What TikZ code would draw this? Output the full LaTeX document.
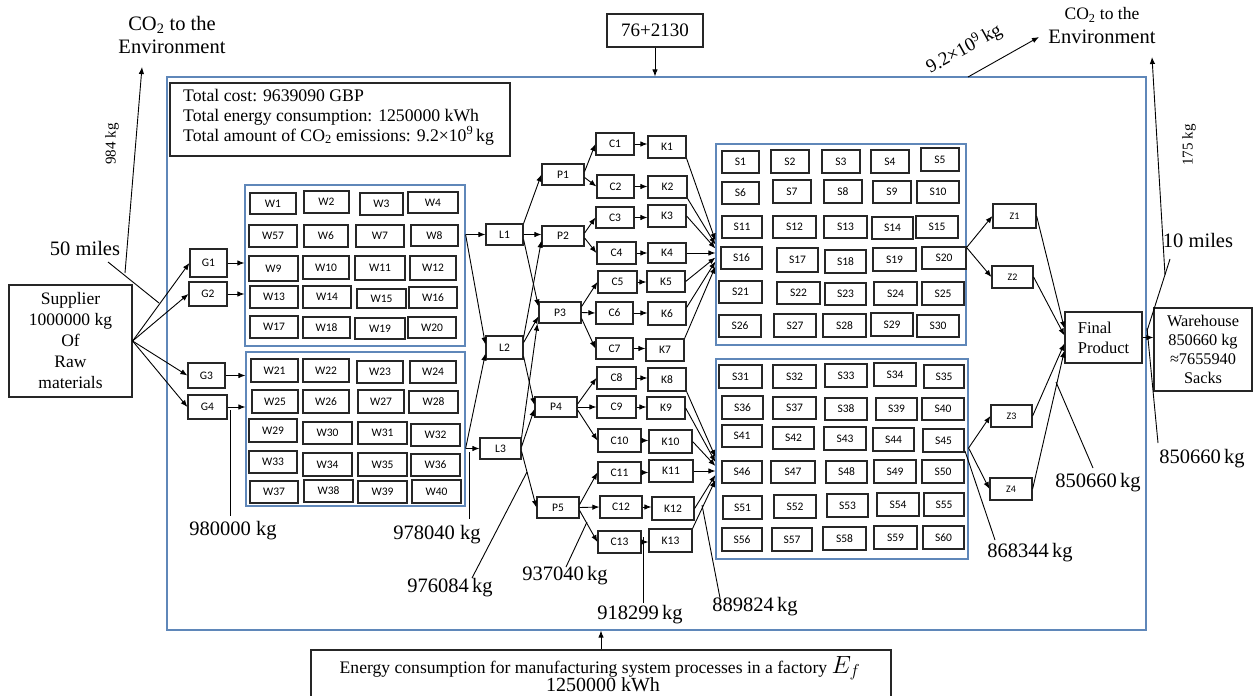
\documentclass[tikz,border=0pt]{standalone}
\usepackage{fontspec}
\setmainfont{Liberation Serif}
\newfontfamily\boxfont{Carlito}
\usetikzlibrary{arrows.meta,calc}
\definecolor{grpblue}{RGB}{95,135,185}

% box given by its corners: [style]{name}{x1}{y1}{x2}{y2}{text}
\newcommand{\boxat}[7][bx]{\node[#1, minimum width={#5-#3}, minimum height={#6-#4}] (#2) at ({(#3+#5)/2},{(#4+#6)/2}) {#7};}

\tikzset{
  bx/.style={draw=black!85, line width=1.2pt, inner sep=0pt, font=\boxfont\fontsize{11.5}{12}\selectfont},
  zbx/.style={bx, font=\boxfont\fontsize{10}{11}\selectfont},
  tbx/.style={draw=black!85, line width=1.2pt, inner sep=0pt, align=center},
  grp/.style={draw=grpblue, line width=1.2pt, inner sep=0pt},
  arr/.style={-{Latex[length=7pt,width=5.5pt]}, line width=0.9pt},
  lead/.style={line width=0.9pt},
  val/.style={inner sep=0pt, font=\fontsize{20.5}{22}\selectfont},
  small/.style={inner sep=0pt, font=\fontsize{15}{16}\selectfont},
}

\begin{document}
\begin{tikzpicture}[x=1pt,y=-1pt]
\useasboundingbox (0,0) rectangle (1253,696);

% factory frame and groups
\boxat[grp]{fac}{167}{77}{1146}{630}{}
\boxat[grp]{WA}{245}{185}{465}{346}{}
\boxat[grp]{WB}{246}{352}{465}{506}{}
\boxat[grp]{SA}{716}{144}{966}{345}{}
\boxat[grp]{SB}{716}{359}{968}{559}{}

% summary box
\boxat[tbx]{info}{170}{83}{510}{156}{}
\node[anchor=west, align=left, inner sep=0pt, font=\fontsize{17.7}{20}\selectfont] (infotxt) at (183,117)
  {Total cost: 9639090 GBP\\Total energy consumption: 1250000 kWh\\Total amount of CO\textsubscript{2} emissions: 9.2×10\textsuperscript{9}\,kg};

% supplier, top input, energy input
\boxat[tbx, font=\fontsize{17.5}{21}\selectfont]{sup}{9}{285}{132}{397}{Supplier\\1000000 kg\\Of\\Raw\\materials}
\boxat[tbx, font=\fontsize{19}{20}\selectfont]{top}{607}{14}{703}{47}{76+2130}
\boxat[tbx]{en}{311}{650}{891}{702}{}
\node[anchor=base, inner sep=0pt, font=\fontsize{17.6}{19}\selectfont] (en1) at (600,673)
  {Energy consumption for manufacturing system processes in a factory {\fontsize{24}{24}\selectfont$E_{f}$}};
\node[anchor=base, inner sep=0pt, font=\fontsize{20}{21}\selectfont] (en2) at (603,691) {1250000 kWh};

% G boxes
\foreach \n/\a/\b/\c/\d in {G1/190/249/227/277, G2/189/282/227/306, G3/188/363/225/388, G4/188/395/227/419}
  {\boxat{\n}{\a}{\b}{\c}{\d}{\n}}

% W boxes
\foreach \n/\a/\b/\c/\d in {
  W1/250/193/296/214, W2/304/191/349/213, W3/360/193/403/215, W4/408/192/458/213,
  W57/249/225/297/247, W6/304/225/348/247, W7/356/225/404/247, W8/411/225/458/246,
  W9/249/256/298/281, W10/303/256/349/279, W11/355/256/405/280, W12/410/256/456/280,
  W13/250/286/298/308, W14/303/286/351/308, W15/357/289/406/308, W16/409/287/457/308,
  W17/250/316/298/338, W18/303/317/350/338, W19/355/318/405/339, W20/408/317/456/338,
  W21/251/359/298/382, W22/303/359/349/382, W23/357/361/403/383, W24/410/361/456/383,
  W25/252/390/298/413, W26/303/390/349/413, W27/358/390/404/413, W28/409/391/458/413,
  W29/249/419/297/442, W30/303/422/352/444, W31/358/422/407/444, W32/411/424/460/446,
  W33/249/451/297/473, W34/303/453/352/476, W35/358/453/407/476, W36/411/454/460/476,
  W37/250/481/298/503, W38/304/480/353/502, W39/358/481/407/503, W40/412/480/461/503}
  {\boxat{\n}{\a}{\b}{\c}{\d}{\n}}

% L, P, C, K boxes
\foreach \n/\a/\b/\c/\d in {
  L1/486/224/523/245, L2/486/336/523/359, L3/480/438/521/459,
  P1/542/164/584/185, P2/542/226/584/246, P3/539/302/581/323, P4/535/397/577/417, P5/537/497/579/518,
  C1/596/133/634/155, C2/597/175/634/198, C3/596/207/634/228, C4/597/242/636/264,
  C5/598/271/637/293, C6/596/302/633/324, C7/596/338/633/359, C8/597/367/636/389,
  C9/597/396/636/418, C10/598/429/641/452, C11/598/462/641/483, C12/600/496/642/518, C13/598/531/641/553,
  K1/648/136/686/158, K2/648/176/687/198, K3/648/205/686/227, K4/648/243/686/263,
  K5/647/271/685/292, K6/648/302/686/325, K7/646/339/684/361, K8/648/368/686/391,
  K9/647/397/685/419, K10/649/430/692/453, K11/649/460/693/482, K12/652/497/694/520, K13/649/529/692/552}
  {\boxat{\n}{\a}{\b}{\c}{\d}{\n}}

% S boxes
\foreach \n/\a/\b/\c/\d in {
  S1/722/151/759/173, S2/771/150/809/173, S3/822/150/860/173, S4/871/150/909/173, S5/921/148/959/171,
  S6/722/182/759/204, S7/773/180/811/203, S8/824/180/862/203, S9/873/181/911/203, S10/917/181/959/203,
  S11/722/216/762/238, S12/773/216/816/238, S13/824/216/867/238, S14/872/217/913/239, S15/916/216/958/238,
  S16/721/247/762/269, S17/777/248/818/272, S18/825/250/866/273, S19/873/248/916/271, S20/922/247/966/269,
  S21/719/281/762/303, S22/777/282/820/304, S23/825/283/866/305, S24/874/282/917/305, S25/922/282/964/305,
  S26/719/315/761/337, S27/774/314/816/337, S28/823/314/866/337, S29/871/313/913/336, S30/917/315/959/337,
  S31/719/365/762/388, S32/773/365/816/388, S33/825/364/867/387, S34/874/363/916/386, S35/924/365/964/388,
  S36/722/396/763/419, S37/773/397/816/419, S38/825/398/867/420, S39/876/398/917/420, S40/922/398/964/420,
  S41/722/425/762/447, S42/773/427/814/449, S43/824/427/866/450, S44/873/428/914/451, S45/923/429/964/452,
  S46/722/461/762/483, S47/771/461/815/483, S48/826/461/867/483, S49/874/460/916/483, S50/922/460/964/483,
  S51/723/496/762/519, S52/774/495/816/518, S53/827/494/868/517, S54/877/493/919/516, S55/924/493/964/516,
  S56/722/528/762/551, S57/772/528/812/551, S58/823/527/866/550, S59/874/526/917/549, S60/923/526/964/549}
  {\boxat{\n}{\a}{\b}{\c}{\d}{\n}}

% Z boxes, final product, warehouse
\foreach \n/\a/\b/\c/\d in {Z1/993/204/1036/228, Z2/992/266/1033/288, Z3/991/405/1032/427, Z4/990/478/1032/500}
  {\boxat[zbx]{\n}{\a}{\b}{\c}{\d}{\n}}
\boxat[tbx, align=left, font=\fontsize{16.5}{20}\selectfont]{FP}{1065}{312}{1142}{363}{Final\\Product}
\boxat[tbx, font=\fontsize{16.3}{19}\selectfont]{WH}{1154}{308}{1252}{391}{Warehouse\\850660 kg\\≈7655940\\Sacks}

% supplier to G, G to W groups
\foreach \g in {G1,G2,G3,G4} \draw[arr] (sup.east) -- (\g.west);
\draw[arr] (G1.east) -- (G1.east -| WA.west);
\draw[arr] (G2.east) -- (G2.east -| WA.west);
\draw[arr] (G3.east) -- (G3.east -| WB.west);
\draw[arr] (G4.east) -- (G4.east -| WB.west);

% W groups to L
\draw[arr] (WA.east |- L1.west) -- (L1.west);
\draw[arr] (WA.east |- L1.west) -- ($(L2.west)+(0,-3)$);
\draw[arr] (WB.east |- L3.west) -- (L3.west);
\draw[arr] (WB.east |- L3.west) -- ($(L2.west)+(0,6)$);

% L to P
\draw[arr] (L1.north east) -- (P1.west);
\draw[arr] (L1.east) -- (L1.east -| P2.west);
\draw[arr] ($(L1.east)+(0,5)$) -- ($(P3.west)+(0,-6)$);
\draw[arr] ($(L2.north east)+(0,2)$) -- ($(P2.south west)+(0,-6)$);
\draw[arr] ($(L2.east)+(0,-5)$) -- ($(P3.west)+(0,4)$);
\draw[arr] ($(L2.east)+(0,9)$) -- ($(P4.west)+(0,-2)$);
\draw[arr] (L3.north east) -- ($(P3.south west)+(-1,0)$);
\draw[arr] ($(L3.east)+(0,-2)$) -- ($(P4.west)+(0,2)$);
\draw[arr] ($(L3.east)+(0,3)$) -- (P5.west);

% P to C, C to K
\foreach \p/\c/\o in {P1/C1/-3, P1/C2/3, P2/C3/-3, P2/C4/2, P3/C5/-6, P3/C6/0, P3/C7/6,
  P4/C8/-3, P4/C9/0, P4/C10/3, P5/C11/-3, P5/C12/0, P5/C13/3}
  \draw[arr] ($(\p.east)+(0,\o)$) -- (\c.west);
\foreach \i in {1,...,13} \draw[arr] (C\i.east) -- (C\i.east -| K\i.west);

% K to S groups
\draw[arr] (K1.south east) -- ($(SA.west)+(0,-4)$);
\draw[arr] (K2.south east) -- (SA.west);
\draw[arr] (K3.east) -- ($(SA.west)+(0,4)$);
\draw[arr] (K4.east) -- (K4.east -| SA.west);
\draw[arr] (K5.east) -- ($(SA.west)+(0,13)$);
\draw[arr] ($(K6.east)+(0,-6)$) -- ($(SA.west)+(0,17)$);
\draw[arr] (K7.north east) -- ($(SA.west)+(0,22)$);
\draw[arr] (K8.south east) -- ($(SB.west)+(0,-2)$);
\draw[arr] (K9.east) -- ($(SB.west)+(0,3)$);
\draw[arr] (K10.east) -- ($(SB.west)+(0,7)$);
\draw[arr] (K11.east) -- (K11.east -| SB.west);
\draw[arr] (K12.east) -- ($(SB.west)+(0,16)$);
\draw[arr] (K13.north east) -- ($(SB.west)+(0,21)$);

% S groups to Z, Z to final product, to warehouse
\draw[arr] ($(SA.east)+(0,3)$) -- (Z1.west);
\draw[arr] ($(SA.east)+(0,3)$) -- (Z2.west);
\draw[arr] ($(SB.east)+(0,-11)$) -- (Z3.west);
\draw[arr] ($(SB.east)+(0,-11)$) -- (Z4.west);
\draw[arr] (Z1.east) -- ($(FP.west)+(0,-9)$);
\draw[arr] (Z2.east) -- ($(FP.west)+(0,-2)$);
\draw[arr] (Z3.east) -- ($(FP.west)+(0,6)$);
\draw[arr] (Z4.east) -- ($(FP.west)+(0,13)$);
\draw[arr] (FP.east) -- (FP.east -| WH.west);

% inputs to the factory
\draw[arr] (top.south) -- (top.south |- fac.north);
\draw[arr] (en.north) -- (en.north |- fac.south);

% emissions to the environment
\node[align=center, inner sep=0pt, font=\fontsize{20.5}{23}\selectfont] (co2l) at (172,35) {CO\textsubscript{2} to the\\Environment};
\node[inner sep=0pt, font=\fontsize{17.5}{19}\selectfont] (co2r1) at (1102,15) {CO\textsubscript{2} to the};
\node[inner sep=0pt, font=\fontsize{20.5}{22}\selectfont] (co2r2) at (1102,37) {Environment};
\coordinate (lfoot) at (125,273);
\coordinate (ltip) at (142,67);
\draw[arr] (lfoot) -- (ltip);
\coordinate (rfoot) at (1165,275);
\coordinate (rtip) at (1152,57);
\draw[arr] (rfoot) -- (rtip);
\coordinate (tfoot) at (968,77);
\coordinate (ttip) at (1039,37);
\draw[arr] (tfoot) -- (ttip);
\node[small, rotate=90] (r984) at (112,144) {984 kg};
\node[small, rotate=90] (r175) at (1189,145) {175 kg};
\node[inner sep=0pt, rotate=29, font=\fontsize{19}{20}\selectfont] (r92) at (964,49) {9.2×10\textsuperscript{9}\,kg};

% distances
\node[val] (m50) at (85,248) {50 miles};
\node[val] (m10) at (1198,240) {10 miles};
\coordinate (m50a) at (108,262); \coordinate (m50b) at (159,303);
\draw[lead] (m50a) -- (m50b);
\coordinate (m10a) at (1170,259); \coordinate (m10b) at (1147,331);
\draw[lead] (m10a) -- (m10b);

% mass values along the line
\node[val] (v980) at (233,531) {980000 kg};
\node[val] (v978) at (437,535) {978040 kg};
\node[val] (v976) at (450,588) {976084\,kg};
\node[val] (v937) at (565,576) {937040\,kg};
\node[val] (v918) at (640,615) {918299\,kg};
\node[val] (v889) at (755,607) {889824\,kg};
\node[val] (v868) at (1030,553) {868344\,kg};
\node[val] (v850a) at (1098,483) {850660\,kg};
\node[val] (v850b) at (1202,459) {850660\,kg};

\coordinate (p980) at (230,410); \coordinate (q980) at (230,516);
\draw[lead] (p980) -- (q980);
\coordinate (p978) at (469,452); \coordinate (q978) at (469,519);
\draw[lead] (p978) -- (q978);
\coordinate (p976) at (527,472); \coordinate (q976) at (472,578);
\draw[lead] (p976) -- (q976);
\coordinate (p937) at (587,522); \coordinate (q937) at (566,567);
\draw[lead] (p937) -- (q937);
\coordinate (p918) at (643,537); \coordinate (q918) at (643,603);
\draw[lead] (p918) -- (q918);
\coordinate (p889) at (702,505); \coordinate (q889) at (720,598);
\draw[lead] (p889) -- (q889);
\coordinate (p868) at (965,451); \coordinate (q868) at (995,540);
\draw[lead] (p868) -- (q868);
\coordinate (p850a) at (1056,382); \coordinate (q850a) at (1093,468);
\draw[lead] (p850a) -- (q850a);
\coordinate (p850b) at (1147,328); \coordinate (q850b) at (1158,443);
\draw[lead] (p850b) -- (q850b);
\end{tikzpicture}
\end{document}
